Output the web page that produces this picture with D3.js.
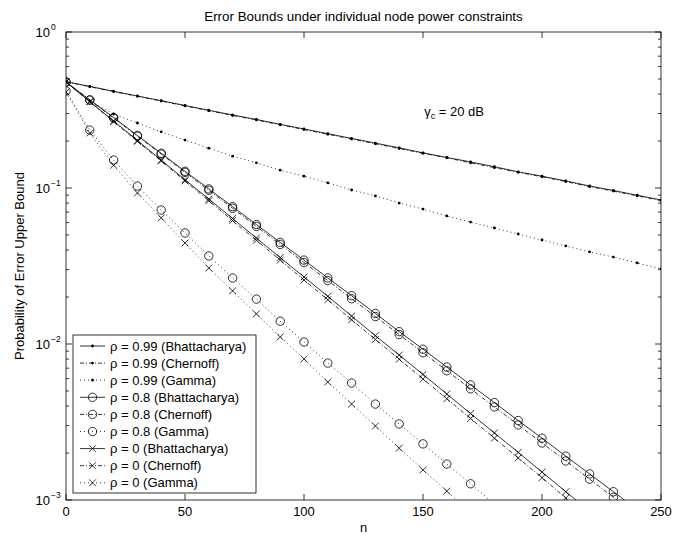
<!DOCTYPE html>
<html>
<head>
<meta charset="utf-8">
<script src="https://cdn.jsdelivr.net/npm/d3@7"></script>
<style>
  body { margin: 0; background: #fff; }
  text { font-family: "Liberation Sans", Arial, Helvetica, sans-serif; fill: #000; }
</style>
</head>
<body>
<div id="chart"></div>
<script>
const width = 688;
const height = 538;

// block lengths n, one marker every 10
const nValues = [0, 10, 20, 30, 40, 50, 60, 70, 80, 90, 100, 110, 120, 130, 140, 150,
  160, 170, 180, 190, 200, 210, 220, 230, 240, 250];

const rho099Bhatt = [0.480, 0.448, 0.417, 0.389, 0.363, 0.338, 0.315, 0.294, 0.275, 0.256,
  0.239, 0.223, 0.208, 0.194, 0.181, 0.168, 0.157, 0.147, 0.137, 0.127, 0.119, 0.111,
  0.103, 0.0964, 0.0899, 0.0838];
const rho099Chern = [0.480, 0.446, 0.415, 0.387, 0.361, 0.336, 0.313, 0.292, 0.273, 0.254,
  0.237, 0.221, 0.206, 0.192, 0.179, 0.167, 0.156, 0.145, 0.135, 0.126, 0.118, 0.110,
  0.102, 0.0955, 0.0890, 0.0830];
const rho099Gamma = [0.478, 0.361, 0.298, 0.261, 0.229, 0.203, 0.180, 0.160, 0.145, 0.130,
  0.119, 0.108, 0.0971, 0.0889, 0.0801, 0.0733, 0.0662, 0.0605, 0.0554, 0.0507, 0.0464,
  0.0425, 0.0389, 0.0361, 0.0331, 0.0303];

const rho08Bhatt = [0.478, 0.367, 0.283, 0.217, 0.167, 0.128, 0.0987, 0.0759, 0.0583, 0.0448,
  0.0345, 0.0265, 0.0204, 0.0157, 0.0120, 0.00926, 0.00712, 0.00547, 0.00421, 0.00323,
  0.00249, 0.00191, 0.00147, 0.00113, 0.000868, 0.000668];
const rho08Chern = [0.478, 0.366, 0.281, 0.215, 0.165, 0.126, 0.0967, 0.0741, 0.0567, 0.0435,
  0.0333, 0.0255, 0.0195, 0.0150, 0.0115, 0.00879, 0.00674, 0.00516, 0.00395, 0.00303,
  0.00232, 0.00178, 0.00136, 0.00104, 0.000799, 0.000612];
const rho08Gamma = [0.419, 0.235, 0.151, 0.103, 0.0723, 0.0515, 0.0367, 0.0265, 0.0194, 0.0140,
  0.0103, 0.00755, 0.00562, 0.00412, 0.00307, 0.00229, 0.00170, 0.00127, 0.000942, 0.000702];

const rho0Bhatt = [0.478, 0.358, 0.269, 0.202, 0.151, 0.113, 0.0850, 0.0638, 0.0478, 0.0358,
  0.0269, 0.0202, 0.0151, 0.0113, 0.00850, 0.00638, 0.00478, 0.00358, 0.00269, 0.00202,
  0.00151, 0.00113, 0.000850, 0.000638];
const rho0Chern = [0.478, 0.357, 0.266, 0.199, 0.149, 0.111, 0.0828, 0.0618, 0.0462, 0.0345,
  0.0257, 0.0192, 0.0143, 0.0107, 0.00799, 0.00597, 0.00446, 0.00333, 0.00249, 0.00186,
  0.00139, 0.00103, 0.000772, 0.000577];
const rho0Gamma = [0.412, 0.225, 0.140, 0.0929, 0.0643, 0.0444, 0.0307, 0.0219, 0.0156, 0.0111,
  0.00802, 0.00571, 0.00412, 0.00298, 0.00215, 0.00156, 0.00114, 0.000826, 0.000597];

const legendLabels = [
  "ρ = 0.99 (Bhattacharya)", "ρ = 0.99 (Chernoff)", "ρ = 0.99 (Gamma)",
  "ρ = 0.8 (Bhattacharya)", "ρ = 0.8 (Chernoff)", "ρ = 0.8 (Gamma)",
  "ρ = 0 (Bhattacharya)", "ρ = 0 (Chernoff)", "ρ = 0 (Gamma)"
];
const xTicks = [0, 50, 100, 150, 200, 250];
const yTicks = [1e-3, 1e-2, 1e-1, 1];
const yTickExp = ["−3", "−2", "−1", "0"];

const series = [
  { values: rho099Bhatt, marker: "dot", dash: null },
  { values: rho099Chern, marker: "dot", dash: "4,2,1,2" },
  { values: rho099Gamma, marker: "dot", dash: "1,3" },
  { values: rho08Bhatt, marker: "circle", dash: null },
  { values: rho08Chern, marker: "circle", dash: "4,2,1,2" },
  { values: rho08Gamma, marker: "circle", dash: "1,3" },
  { values: rho0Bhatt, marker: "cross", dash: null },
  { values: rho0Chern, marker: "cross", dash: "4,2,1,2" },
  { values: rho0Gamma, marker: "cross", dash: "1,3" }
];

const plot = { left: 66, right: 661, top: 32, bottom: 500 };
const fontSize = 13;

const x = d3.scaleLinear().domain([0, 250]).range([plot.left, plot.right]);
const y = d3.scaleLog().domain([1e-3, 1]).range([plot.bottom, plot.top]);

const svg = d3.select("#chart").append("svg")
  .attr("width", width)
  .attr("height", height);

svg.append("rect").attr("width", width).attr("height", height).attr("fill", "#fff");

svg.append("defs").append("clipPath").attr("id", "clip")
  .append("rect")
  .attr("x", plot.left).attr("y", plot.top)
  .attr("width", plot.right - plot.left).attr("height", plot.bottom - plot.top);

// title and axis labels
svg.append("text")
  .attr("x", (plot.left + plot.right) / 2).attr("y", 21)
  .attr("text-anchor", "middle").attr("font-size", 13.4)
  .text("Error Bounds under individual node power constraints");

svg.append("text")
  .attr("x", (plot.left + plot.right) / 2).attr("y", 532)
  .attr("text-anchor", "middle").attr("font-size", fontSize)
  .text("n");

svg.append("text")
  .attr("transform", `translate(24,${(plot.top + plot.bottom) / 2}) rotate(-90)`)
  .attr("text-anchor", "middle").attr("font-size", fontSize)
  .text("Probability of Error Upper Bound");

// frame + ticks
const axes = svg.append("g").attr("stroke", "#000").attr("stroke-width", 0.8);
axes.append("rect")
  .attr("x", plot.left).attr("y", plot.top)
  .attr("width", plot.right - plot.left).attr("height", plot.bottom - plot.top)
  .attr("fill", "none");

xTicks.forEach((t) => {
  axes.append("line").attr("x1", x(t)).attr("x2", x(t))
    .attr("y1", plot.bottom).attr("y2", plot.bottom - 6);
  axes.append("line").attr("x1", x(t)).attr("x2", x(t))
    .attr("y1", plot.top).attr("y2", plot.top + 6);
  svg.append("text")
    .attr("x", x(t)).attr("y", 516)
    .attr("text-anchor", "middle").attr("font-size", fontSize)
    .text(t);
});

const minorTicks = [];
[1e-3, 1e-2, 1e-1].forEach((d) => {
  for (let k = 2; k <= 9; k++) minorTicks.push(d * k);
});
minorTicks.forEach((t) => {
  axes.append("line").attr("x1", plot.left).attr("x2", plot.left + 3)
    .attr("y1", y(t)).attr("y2", y(t));
  axes.append("line").attr("x1", plot.right).attr("x2", plot.right - 3)
    .attr("y1", y(t)).attr("y2", y(t));
});

yTicks.forEach((t, i) => {
  axes.append("line").attr("x1", plot.left).attr("x2", plot.left + 6)
    .attr("y1", y(t)).attr("y2", y(t));
  axes.append("line").attr("x1", plot.right).attr("x2", plot.right - 6)
    .attr("y1", y(t)).attr("y2", y(t));
  svg.append("text")
    .attr("x", 50).attr("y", y(t) + 5)
    .attr("text-anchor", "end").attr("font-size", fontSize)
    .text("10");
  svg.append("text")
    .attr("x", 51).attr("y", y(t) - 2)
    .attr("font-size", 8.5)
    .text(yTickExp[i]);
});

// annotation
const ann = svg.append("text").attr("x", 484).attr("y", 116)
  .attr("text-anchor", "end").attr("font-size", fontSize);
ann.append("tspan").text("γ");
ann.append("tspan").attr("font-size", 9).attr("dy", 3).text("c");
ann.append("tspan").attr("dy", -3).text(" = 20 dB");

// curves
const line = d3.line()
  .x((d) => x(d[0]))
  .y((d) => y(d[1]));

function drawMarker(g, type, cx, cy) {
  if (type === "dot") {
    g.append("circle").attr("cx", cx).attr("cy", cy).attr("r", 1.4)
      .attr("fill", "#000").attr("stroke", "none");
  } else if (type === "circle") {
    g.append("circle").attr("cx", cx).attr("cy", cy).attr("r", 4.2)
      .attr("fill", "none").attr("stroke", "#000").attr("stroke-width", 0.8);
  } else {
    const s = 3.4;
    g.append("path")
      .attr("d", `M${cx - s},${cy - s}L${cx + s},${cy + s}M${cx - s},${cy + s}L${cx + s},${cy - s}`)
      .attr("fill", "none").attr("stroke", "#000").attr("stroke-width", 0.8);
  }
}

const curves = svg.append("g").attr("clip-path", "url(#clip)");
series.forEach((s) => {
  const pts = s.values.map((v, i) => [nValues[i], v]);
  curves.append("path")
    .datum(pts)
    .attr("d", line)
    .attr("fill", "none")
    .attr("stroke", "#000")
    .attr("stroke-width", 0.8)
    .attr("stroke-dasharray", s.dash);
  const mg = curves.append("g");
  pts.filter((p) => p[1] >= 1e-3).forEach((p) => drawMarker(mg, s.marker, x(p[0]), y(p[1])));
});

// legend
const legend = svg.append("g");
legend.append("rect")
  .attr("x", 73).attr("y", 335).attr("width", 183).attr("height", 158)
  .attr("fill", "#fff").attr("stroke", "#000").attr("stroke-width", 0.8);

legendLabels.forEach((label, i) => {
  const ly = 346 + i * 17.1;
  const s = series[i];
  legend.append("line")
    .attr("x1", 80).attr("x2", 105).attr("y1", ly).attr("y2", ly)
    .attr("stroke", "#000").attr("stroke-width", 0.8)
    .attr("stroke-dasharray", s.dash);
  drawMarker(legend, s.marker, 92.5, ly);
  legend.append("text")
    .attr("x", 110).attr("y", ly + 4.5)
    .attr("font-size", fontSize)
    .text(label);
});
</script>
</body>
</html>
